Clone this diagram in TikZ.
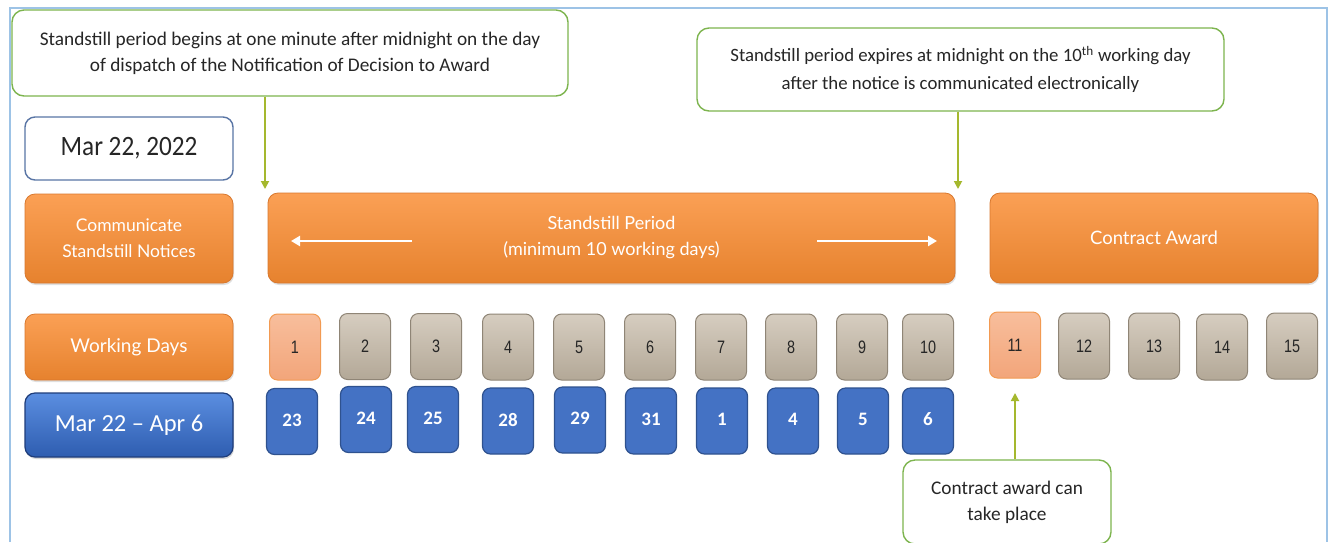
\documentclass[tikz,border=0pt]{standalone}
\usepackage{fontspec}
\setmainfont{Carlito}
\newfontfamily\boxfont{Lato}
\newfontfamily\numfont[FakeStretch=0.8]{Liberation Sans}
\newfontfamily\datefont[FakeStretch=0.9]{Carlito}
\usetikzlibrary{arrows.meta,shadows}
\definecolor{orng}{HTML}{F79646}
\definecolor{orngL}{HTML}{FBA055}
\definecolor{orngD}{HTML}{E6822E}
\definecolor{orngB}{HTML}{D9782E}
\definecolor{tanL}{HTML}{D6CDC0}
\definecolor{tanD}{HTML}{B3A897}
\definecolor{tanB}{HTML}{8F8576}
\definecolor{peachL}{HTML}{F8BE9C}
\definecolor{peachD}{HTML}{F2A57A}
\definecolor{peachB}{HTML}{F29A52}
\definecolor{blu}{HTML}{4472C4}
\definecolor{bluB}{HTML}{2F528F}
\definecolor{bluL}{HTML}{5B8EE0}
\definecolor{bluD}{HTML}{2E5DB0}
\definecolor{bluDD}{HTML}{1F3D7A}
\definecolor{grn}{HTML}{7DB44E}
\definecolor{olive}{HTML}{A5B82E}
\definecolor{framec}{HTML}{9DC3E6}
\definecolor{txt}{HTML}{262626}
\tikzset{
  callout/.style={draw=grn, line width=1.4pt, rounded corners=12pt, fill=white, align=center, text=txt, inner sep=0pt},
  obox/.style={draw=orngB, line width=0.8pt, rounded corners=10pt, top color=orngL, bottom color=orngD, text=white, font=\boxfont\fontsize{17.5}{26}\selectfont, align=center, inner sep=0pt, drop shadow={opacity=0.25, shadow xshift=1pt, shadow yshift=-2pt}},
  tanbox/.style={draw=tanB, line width=1pt, rounded corners=8pt, top color=tanL, bottom color=tanD, text=txt, font=\numfont\fontsize{18}{20}\selectfont, minimum width=51pt, minimum height=66pt, inner sep=0pt},
  peachbox/.style={tanbox, draw=peachB, top color=peachL, bottom color=peachD},
  bbox/.style={draw=bluB, line width=1.2pt, rounded corners=8pt, fill=blu, text=white, font=\bfseries\fontsize{19}{20}\selectfont, minimum width=51pt, minimum height=66pt, inner sep=0pt},
  garrow/.style={draw=olive, line width=1.8pt, -{Triangle[length=8pt,width=8pt]}},
  warrow/.style={draw=white, line width=2.6pt, -{Triangle[length=9pt,width=10pt]}},
}
\begin{document}
\begin{tikzpicture}[x=1pt,y=-1pt]
\useasboundingbox (0,0) rectangle (1333,542);
\fill[white] (0,0) rectangle (1333,542);
\draw[framec, line width=2pt] (10,542) -- (10,8) -- (1327,8) -- (1327,542);

% callouts
\node[callout, minimum width=556pt, minimum height=86pt, font=\fontsize{19.3}{26}\selectfont] (c1) at (290,53)
  {Standstill period begins at one minute after midnight on the day\\of dispatch of the Notification of Decision to Award};
\node[callout, minimum width=527pt, minimum height=83pt, font=\fontsize{18.8}{28}\selectfont] (c2) at (960.5,69.5)
  {Standstill period expires at midnight on the 10\textsuperscript{th} working day\\after the notice is communicated electronically};
\node[callout, minimum width=208pt, minimum height=84pt, font=\fontsize{19.3}{26}\selectfont] (c3) at (1007,502)
  {Contract award can\\take place};

% left column
\node[draw=bluB!80, line width=1.4pt, rounded corners=10pt, fill=white, minimum width=208pt, minimum height=63pt, inner sep=0pt, text=txt, font=\datefont\fontsize{28}{30}\selectfont] (date) at (129,148.5) {Mar 22, 2022};
\node[obox, minimum width=208pt, minimum height=89pt] (comm) at (129,238.5) {Communicate\\Standstill Notices};
\node[obox, minimum width=208pt, minimum height=66pt, font=\boxfont\fontsize{19}{20}\selectfont] (wd) at (129,347) {Working Days};
\node[rounded corners=10pt, top color=bluL, bottom color=bluD, draw=bluDD, line width=1.2pt, minimum width=208pt, minimum height=64pt, inner sep=0pt, text=white, font=\fontsize{24.5}{26}\selectfont, drop shadow={opacity=0.3, shadow xshift=1pt, shadow yshift=-2pt}] (range) at (129,425) {Mar 22 -- Apr 6};

% header bars
\node[obox, minimum width=687pt, minimum height=90pt, font=\boxfont\fontsize{18}{26}\selectfont] (sp) at (611.5,238) {Standstill Period\\(minimum 10 working days)};
\node[obox, minimum width=328pt, minimum height=90pt, font=\boxfont\fontsize{18.5}{20}\selectfont] (ca) at (1154,238) {Contract Award};
\coordinate (la) at (412,241); \coordinate (lb) at (291,241);
\coordinate (ra) at (817,241); \coordinate (rb) at (937,241);
\draw[warrow] (la) -- (lb);
\draw[warrow] (ra) -- (rb);

% working days
\node[peachbox] (w1) at (295,347) {1};
\foreach \n/\x/\y in {2/365/346.5,3/436/346.5,4/508/347,5/579/347,6/650/347,7/721/347,8/791/347,9/862/347,10/928/347,12/1084/346,13/1154/346,14/1222/347,15/1292/346}
  \node[tanbox] (w\n) at (\x,\y) {\n};
\node[peachbox] (w11) at (1015,345) {11};

% dates
\foreach \n/\d/\x/\y in {1/23/292/421.5,2/24/366/419.5,3/25/433/419.5,4/28/508/421,5/29/580/420,6/31/651/421,7/1/722/421,8/4/793/421,9/5/863/421,10/6/928/421}
  \node[bbox] (d\n) at (\x,\y) {\raisebox{3pt}{\d}};

% green arrows
\coordinate (a1) at (265,189);
\coordinate (a2) at (958,189);
\coordinate (a3) at (1015,393);
\draw[garrow] (c1.south -| a1) -- (a1);
\draw[garrow] (c2.south -| a2) -- (a2);
\draw[garrow] (c3.north -| a3) -- (a3);
\end{tikzpicture}
\end{document}
